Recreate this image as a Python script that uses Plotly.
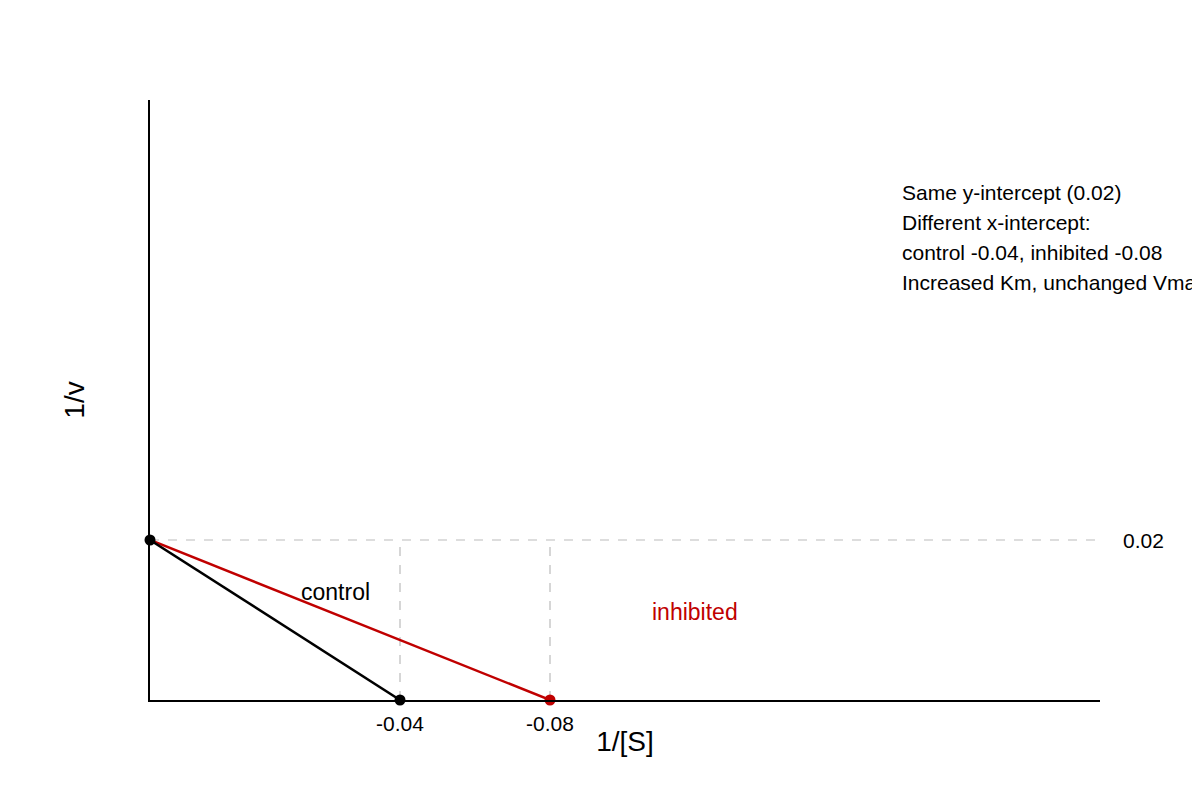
import plotly.graph_objects as go

# x positions are layout positions along 1/[S]; labels carry the reading
control_x = [0, 2.5]
control_y = [0.02, 0]
inhibited_x = [0, 4]
inhibited_y = [0.02, 0]
x_ticks = [2.5, 4]
x_tick_labels = ["-0.04", "-0.08"]
y_intercept = 0.02
notes = [
    "Same y-intercept (0.02)",
    "Different x-intercept:",
    "control -0.04, inhibited -0.08",
    "Increased Km, unchanged Vmax",
]

font = "Liberation Sans, Arial, sans-serif"
fig = go.Figure()

grey = dict(color="#bbbbbb", width=1.2, dash="dash")
fig.add_trace(go.Scatter(x=[0, 9.5], y=[y_intercept] * 2, mode="lines", line=grey, hoverinfo="skip"))
for xt in x_ticks:
    fig.add_trace(go.Scatter(x=[xt, xt], y=[0, y_intercept], mode="lines", line=grey, hoverinfo="skip"))

fig.add_trace(go.Scatter(x=inhibited_x, y=inhibited_y, mode="lines", line=dict(color="#c00000", width=2.5)))
fig.add_trace(go.Scatter(x=control_x, y=control_y, mode="lines", line=dict(color="black", width=2.5)))
fig.add_trace(go.Scatter(x=[inhibited_x[1]], y=[0], mode="markers", marker=dict(color="#c00000", size=11), cliponaxis=False))
fig.add_trace(go.Scatter(x=[control_x[1], 0], y=[0, y_intercept], mode="markers", marker=dict(color="black", size=11), cliponaxis=False))

ann = []
for xt, lab in zip(x_ticks, x_tick_labels):
    ann.append(dict(x=xt, y=0, yshift=-23, text=lab, showarrow=False, font=dict(size=21)))
ann.append(dict(x=1.0216, xref="paper", y=y_intercept, text="0.02", showarrow=False, xanchor="left", font=dict(size=21)))
ann.append(dict(x=1.85, y=0.0135, text="control", showarrow=False, font=dict(size=23)))
ann.append(dict(x=5.45, y=0.011, text="inhibited", showarrow=False, font=dict(size=23, color="#c00000")))
for i, t in enumerate(notes):
    ann.append(dict(x=7.5, y=0.0634 - i * 0.00375, text=t, showarrow=False, xanchor="left", font=dict(size=21)))

fig.update_layout(
    width=1200, height=800, showlegend=False,
    plot_bgcolor="white", paper_bgcolor="white",
    font=dict(family=font, color="black"),
    margin=dict(l=142, r=108, t=92, b=108),
    annotations=ann,
    xaxis=dict(range=[0, 9.5], showline=True, linecolor="black", linewidth=2, showgrid=False,
               zeroline=False, showticklabels=False, ticks="",
               title=dict(text="1/[S]", font=dict(size=28), standoff=30)),
    yaxis=dict(range=[0, 0.075], showline=True, linecolor="black", linewidth=2, showgrid=False,
               zeroline=False, showticklabels=False, ticks="",
               title=dict(text="1/v", font=dict(size=28), standoff=55)),
)
fig.write_html("out.html")
